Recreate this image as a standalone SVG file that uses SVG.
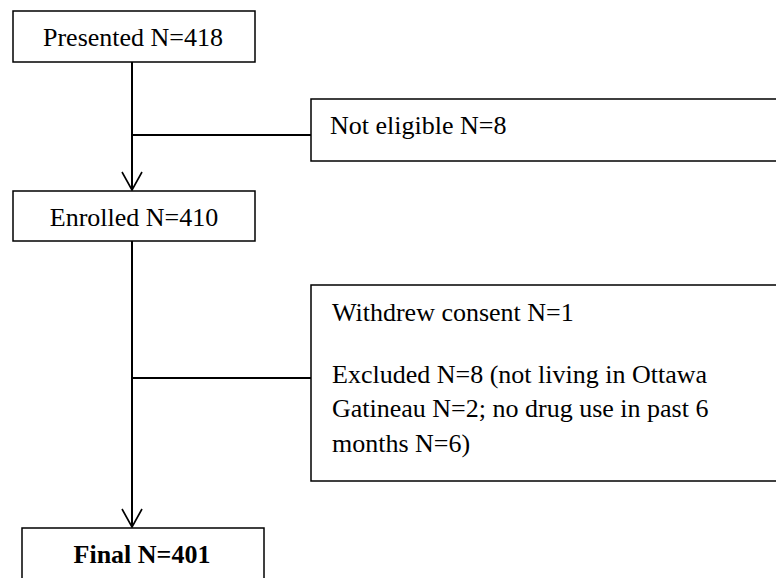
<svg xmlns="http://www.w3.org/2000/svg" width="776" height="578" viewBox="0 0 776 578">
<style>
.box{fill:#fff;stroke:#000;stroke-width:1.5}
.t{font-family:"Liberation Serif","Times New Roman",serif;font-size:26px;fill:#000}
.c{text-anchor:middle}
.b{font-weight:bold}
.ln{stroke:#000;stroke-width:2;fill:none}
.ah{stroke:#000;stroke-width:1.6;fill:none}
</style>
<rect width="776" height="578" fill="#fff"/>
<g id="connectors">
<line class="ln" x1="132" y1="62" x2="132" y2="190"/>
<polyline class="ah" points="122,172 132,190 142,172"/>
<line class="ln" x1="132" y1="135" x2="311" y2="135"/>
<line class="ln" x1="132" y1="241" x2="132" y2="527"/>
<polyline class="ah" points="122,509 132,527 142,509"/>
<line class="ln" x1="132" y1="378" x2="311" y2="378"/>
</g>
<g id="presented">
<rect class="box" x="13" y="11" width="242" height="51"/>
<text class="t c" x="133" y="46">Presented N=418</text>
</g>
<g id="not-eligible">
<rect class="box" x="311" y="99" width="470" height="62"/>
<text class="t" x="330" y="134">Not eligible N=8</text>
</g>
<g id="enrolled">
<rect class="box" x="13" y="191" width="242" height="50"/>
<text class="t c" x="134" y="226">Enrolled N=410</text>
</g>
<g id="excluded">
<rect class="box" x="311" y="285" width="470" height="196"/>
<text class="t" x="332" y="321">Withdrew consent N=1</text>
<text class="t" x="332" y="383">Excluded N=8 (not living in Ottawa</text>
<text class="t" x="332" y="417">Gatineau N=2; no drug use in past 6</text>
<text class="t" x="332" y="452">months N=6)</text>
</g>
<g id="final">
<rect class="box" x="22" y="528" width="242" height="70"/>
<text class="t c b" x="142" y="563">Final N=401</text>
</g>
</svg>
